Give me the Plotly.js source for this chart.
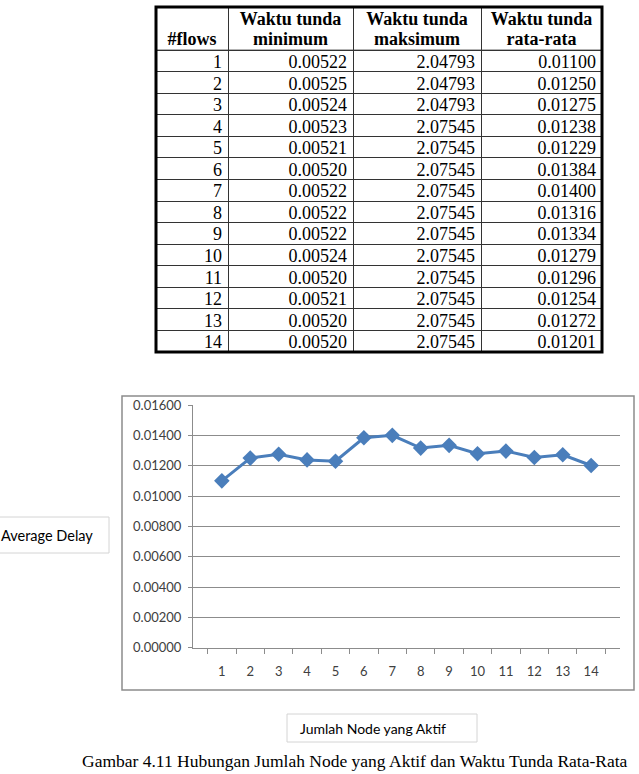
<!DOCTYPE html>
<html>
<head>
<meta charset="utf-8">
<script src="https://cdn.plot.ly/plotly-3.0.1.min.js"></script>
<style>html,body{margin:0;padding:0;background:#fff;}#chart{width:639px;height:774px;}</style>
</head>
<body>
<div id="chart"></div>
<script>
// ---- data ----
const flows = [1,2,3,4,5,6,7,8,9,10,11,12,13,14];
const minDelay = [0.00522,0.00525,0.00524,0.00523,0.00521,0.00520,0.00522,0.00522,0.00522,0.00524,0.00520,0.00521,0.00520,0.00520];
const maxDelay = [2.04793,2.04793,2.04793,2.07545,2.07545,2.07545,2.07545,2.07545,2.07545,2.07545,2.07545,2.07545,2.07545,2.07545];
const avgDelay = [0.01100,0.01250,0.01275,0.01238,0.01229,0.01384,0.01400,0.01316,0.01334,0.01279,0.01296,0.01254,0.01272,0.01201];
const headerTop = ['', 'Waktu tunda', 'Waktu tunda', 'Waktu tunda'];
const headerBottom = ['#flows', 'minimum', 'maksimum', 'rata-rata'];
const yTitle = 'Average Delay';
const xTitle = 'Jumlah Node yang Aktif';
const caption = 'Gambar 4.11 Hubungan Jumlah Node yang Aktif dan Waktu Tunda Rata-Rata';

// ---- geometry helpers ----
const W = 639, H = 774;
const px = x => x / W;
const py = y => 1 - y / H;

const serif = 'Liberation Serif, Times New Roman, serif';
const sans = 'Lato, Open Sans, sans-serif';
const gray = '#8c8c8c';

// table layout (column edges in table pixel units, rows in row units; header = 2 rows)
const colEdges = [0, 72, 197, 325, 446];
const colCenters = colEdges.slice(0, 4).map((e, i) => (e + colEdges[i + 1]) / 2);
const cellPad = 6;
const rowY = flows.map((f, i) => i + 2.62);
const columns = [flows.map(String), minDelay.map(v => v.toFixed(5)), maxDelay.map(v => v.toFixed(5)), avgDelay.map(v => v.toFixed(5))];

const traces = [];

// chart line
traces.push({
  type: 'scatter',
  mode: 'lines+markers',
  x: flows.map(String),
  y: avgDelay,
  xaxis: 'x', yaxis: 'y',
  line: {color: '#4A7EBB', width: 3},
  marker: {symbol: 'diamond', size: 12, color: '#4A7EBB'},
  hoverinfo: 'skip'
});

// table header
traces.push({
  type: 'scatter', mode: 'text', xaxis: 'x2', yaxis: 'y2',
  x: colCenters.slice(1), y: headerTop.slice(1).map(() => 0.62),
  text: headerTop.slice(1), textposition: 'middle center',
  textfont: {family: serif, size: 18, color: 'black', weight: 'bold'},
  hoverinfo: 'skip', cliponaxis: false
});
traces.push({
  type: 'scatter', mode: 'text', xaxis: 'x2', yaxis: 'y2',
  x: colCenters, y: headerBottom.map(() => 1.55),
  text: headerBottom, textposition: 'middle center',
  textfont: {family: serif, size: 18, color: 'black', weight: 'bold'},
  hoverinfo: 'skip', cliponaxis: false
});
// table cells
columns.forEach((col, c) => {
  traces.push({
    type: 'scatter', mode: 'text', xaxis: 'x2', yaxis: 'y2',
    x: col.map(() => colEdges[c + 1] - cellPad), y: rowY,
    text: col, textposition: 'middle left',
    textfont: {family: serif, size: 18, color: 'black'},
    hoverinfo: 'skip', cliponaxis: false
  });
});

const rowBoundaries = [];
for (let r = 2; r < 16; r++) rowBoundaries.push(r);

const layout = {
  width: W, height: H,
  margin: {l: 0, r: 0, t: 0, b: 0},
  paper_bgcolor: 'white',
  plot_bgcolor: 'rgba(0,0,0,0)',
  showlegend: false,
  hovermode: false,
  xaxis: {
    domain: [px(193), px(620)],
    anchor: 'y',
    type: 'category',
    tickson: 'boundaries',
    ticks: 'outside', ticklen: 5, tickcolor: gray, tickwidth: 1,
    showline: true, linecolor: gray, linewidth: 1,
    showgrid: false, zeroline: false,
    tickfont: {family: sans, size: 13, color: '#404040'},
    ticklabelstandoff: 12,
    fixedrange: true
  },
  yaxis: {
    domain: [py(647.7), py(405)],
    anchor: 'x',
    range: [0, 0.016],
    tick0: 0, dtick: 0.002,
    tickformat: '.5f',
    ticks: 'outside', ticklen: 4, tickcolor: gray, tickwidth: 1,
    showline: true, linecolor: gray, linewidth: 1,
    showgrid: true, gridcolor: gray, gridwidth: 1,
    zeroline: false,
    tickfont: {family: sans, size: 13, color: '#404040'},
    ticklabelstandoff: 4,
    fixedrange: true
  },
  xaxis2: {
    domain: [px(156), px(602)],
    anchor: 'y2',
    range: [0, 446],
    tickmode: 'array', tickvals: colEdges.slice(1, 4),
    showticklabels: false, ticks: '',
    showgrid: true, gridcolor: '#333', gridwidth: 1,
    zeroline: false, showline: false, fixedrange: true
  },
  yaxis2: {
    domain: [py(352), py(7)],
    anchor: 'x2',
    range: [16, 0],
    tickmode: 'array', tickvals: rowBoundaries,
    showticklabels: false, ticks: '',
    showgrid: true, gridcolor: '#333', gridwidth: 1,
    zeroline: false, showline: false, fixedrange: true
  },
  shapes: [
    // chart area border
    {type: 'rect', xref: 'paper', yref: 'paper', x0: px(122), x1: px(634), y0: py(690), y1: py(396),
     line: {color: gray, width: 1.5}, fillcolor: 'rgba(0,0,0,0)', layer: 'below'},
    // table header separator
    {type: 'line', xref: 'x2', yref: 'y2', x0: 0, x1: 446, y0: 2, y1: 2,
     line: {color: '#333', width: 1}, layer: 'above'},
    // table outer border
    {type: 'rect', xref: 'paper', yref: 'paper', x0: px(156), x1: px(602), y0: py(352), y1: py(7),
     line: {color: 'black', width: 3}, fillcolor: 'rgba(0,0,0,0)', layer: 'above'},
    // y title box
    {type: 'rect', xref: 'paper', yref: 'paper', x0: px(-5), x1: px(109), y0: py(553), y1: py(517),
     line: {color: '#d4d4d4', width: 1}, fillcolor: 'white', layer: 'below'},
    // x title box
    {type: 'rect', xref: 'paper', yref: 'paper', x0: px(287), x1: px(477), y0: py(742), y1: py(714),
     line: {color: '#d4d4d4', width: 1}, fillcolor: 'white', layer: 'below'}
  ],
  annotations: [
    {xref: 'paper', yref: 'paper', x: px(-1), y: py(535), xanchor: 'left', yanchor: 'middle',
     text: yTitle, showarrow: false, font: {family: sans, size: 14.5, color: 'black'}},
    {xref: 'paper', yref: 'paper', x: px(298), y: py(728), xanchor: 'left', yanchor: 'middle',
     text: xTitle, showarrow: false, font: {family: sans, size: 14, color: 'black'}},
    {xref: 'paper', yref: 'paper', x: px(80), y: py(773), xanchor: 'left', yanchor: 'bottom',
     text: caption, showarrow: false, font: {family: serif, size: 17.5, color: 'black'}}
  ]
};

Plotly.newPlot('chart', traces, layout, {displayModeBar: false, staticPlot: true});
</script>
</body>
</html>
